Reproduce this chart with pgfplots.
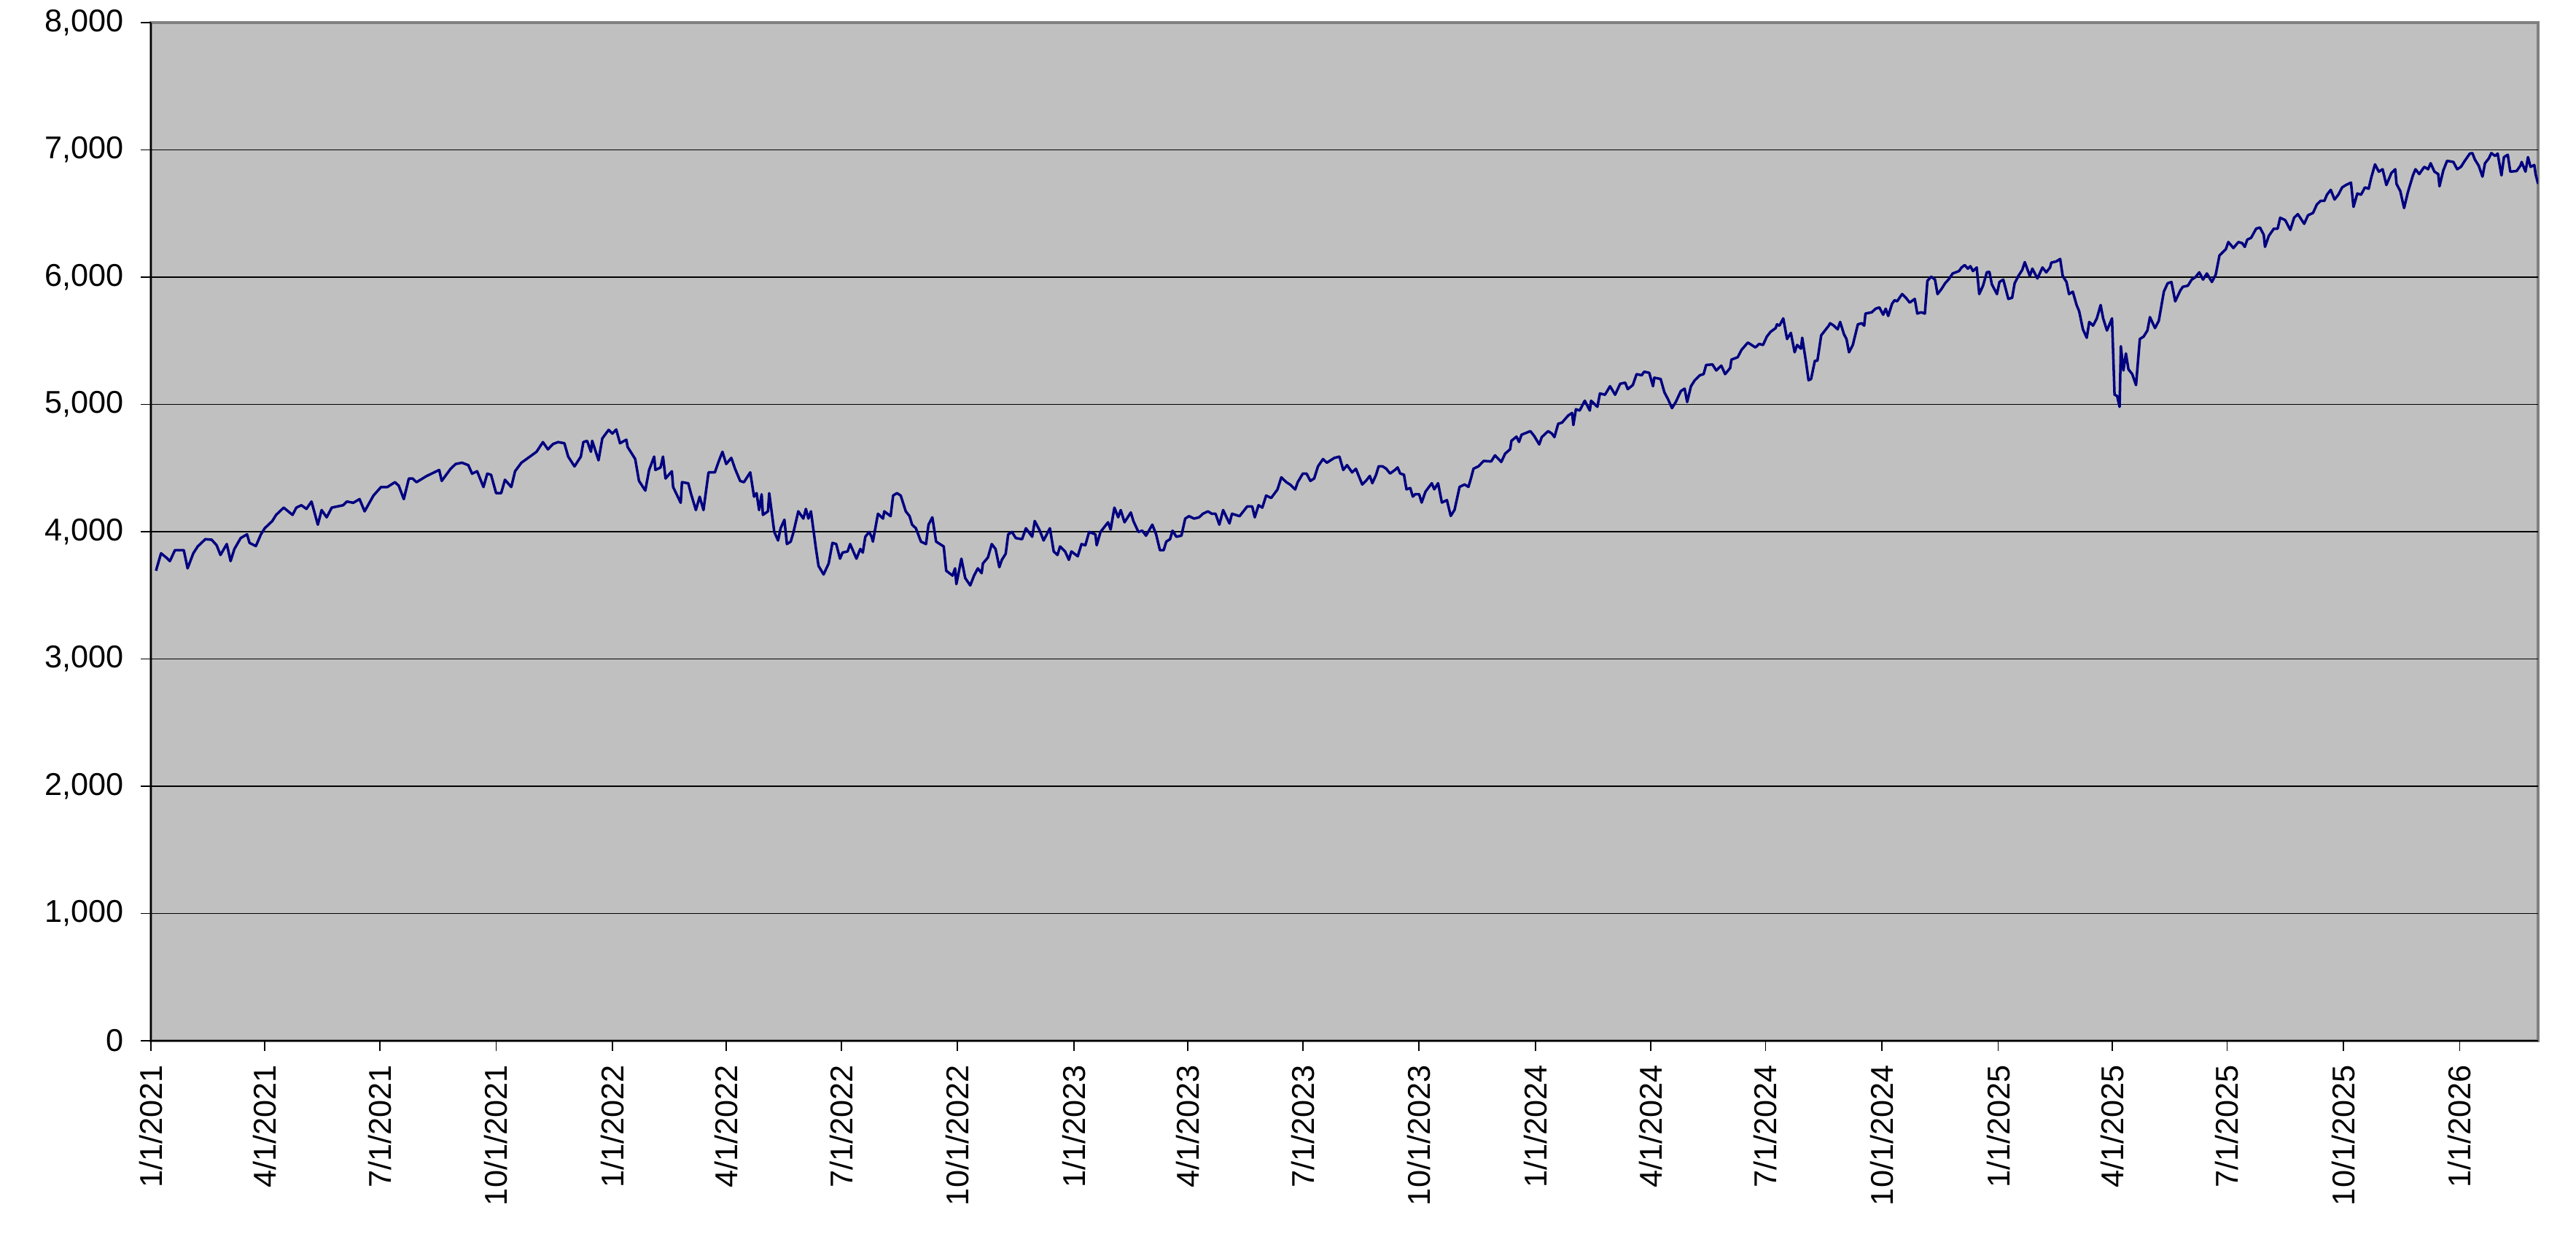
\documentclass[border=0pt]{standalone}
\usepackage{fontspec}
\setmainfont{Liberation Sans}
\usepackage{pgfplots}
\pgfplotsset{compat=1.18}
\definecolor{plotbg}{RGB}{192,192,192}
\definecolor{linecol}{RGB}{0,0,128}
\definecolor{framecol}{RGB}{128,128,128}
\begin{document}
\begin{tikzpicture}
\useasboundingbox (-20.7mm,-29.0mm) rectangle (332.6mm,142.7mm);
\begin{axis}[
  scale only axis,
  width=327.4mm, height=139.6mm,
  xmin=0, xmax=1888, ymin=0, ymax=8000,
  axis background/.style={fill=plotbg, draw=framecol, line width=1pt},
  axis x line*=bottom, axis y line*=left,
  axis line style={black, line width=0.5pt, -},
  tick align=outside, major tick length=1.4mm,
  tick style={black, line width=0.5pt},
  ytick={0,1000,...,8000},
  extra y ticks={1000,2000,...,7000},
  extra y tick labels={},
  extra y tick style={grid=major, major tick length=0pt},
  xtick={0,90,181,273,365,455,546,638,730,820,911,1003,1095,1186,1277,1369,1461,1551,1642,1734,1826},
  xticklabels={1/1/2021,4/1/2021,7/1/2021,10/1/2021,1/1/2022,4/1/2022,7/1/2022,10/1/2022,1/1/2023,4/1/2023,7/1/2023,10/1/2023,1/1/2024,4/1/2024,7/1/2024,10/1/2024,1/1/2025,4/1/2025,7/1/2025,10/1/2025,1/1/2026},
  major grid style={black, line width=0.35pt},
  /pgf/number format/assume math mode=true,
  /pgf/number format/1000 sep={,},
  scaled y ticks=false,
  every tick label/.append style={font=\fontsize{12.3}{14}\selectfont},
  xticklabel style={rotate=90, anchor=east, inner sep=0pt, xshift=-1.9mm},
  yticklabel style={anchor=east, inner sep=0pt, xshift=-2.3mm},
]
\addplot[color=linecol, line width=1pt, line join=round, mark=none] table {
x y
4 3693
8 3830
12 3798
15 3769
19 3855
26 3855
29 3712
33.5 3830
37 3884
43 3941
48 3937
52 3893
55 3817
60 3903
63 3769
66 3864
71 3950
76 3979
78 3912
83 3887
87 3979
90 4027
96 4084
99 4132
105 4189
112 4132
115 4189
119 4208
123 4179
127 4237
132 4055
135 4170
139 4113
143 4189
152 4208
155 4237
160 4227
165 4256
169 4160
176 4284
182 4351
187 4351
190 4370
193 4389
196 4361
200 4256
204 4418
207 4418
210 4389
218 4437
224 4466
228 4485
230 4399
237 4494
241 4532
246 4542
251 4523
254 4456
258 4475
263 4351
266 4456
269 4447
273 4303
277 4303
280 4408
285 4351
288 4475
293 4542
301 4599
305 4628
310 4704
314 4647
318 4689
322 4704
327 4695
330 4590
335 4513
340 4590
342 4704
345 4714
348 4628
349 4714
354 4561
357 4733
362 4800
365 4771
368 4803
371 4695
376 4723
377 4666
383 4571
386 4399
391 4323
394 4485
398 4590
399 4485
403 4504
405 4590
407 4418
412 4475
413 4351
419 4227
420 4389
425 4380
427 4303
431 4170
434 4275
437 4170
441 4466
446 4466
449 4551
452 4628
455 4532
459 4580
462 4494
466 4399
469 4389
474 4466
477 4275
479 4303
481 4170
483 4294
484 4132
488 4160
489 4303
493 3998
496 3931
498 4027
501 4094
503 3903
506 3922
508 3989
512 4160
516 4103
518 4179
520 4103
522 4160
526 3864
528 3731
532 3664
536 3750
539 3912
542 3903
545 3788
547 3836
551 3845
553 3903
558 3788
561 3864
563 3836
565 3960
568 3998
570 3960
571 3922
575 4141
579 4103
580 4160
585 4122
587 4284
590 4303
593 4284
597 4160
600 4122
602 4055
605 4027
609 3922
613 3903
615 4055
618 4113
621 3922
624 3903
627 3884
629 3693
634 3655
636 3712
637 3588
641 3788
644 3636
648 3578
651 3655
654 3712
657 3674
658 3750
662 3798
665 3903
668 3864
671 3721
673 3779
676 3826
678 3979
681 3998
684 3950
689 3941
692 4027
697 3960
699 4084
703 4008
706 3931
711 4027
714 3845
717 3817
719 3884
723 3845
726 3779
728 3845
733 3807
736 3903
739 3893
742 3998
747 3979
748 3893
751 3998
754 4036
757 4074
759 4017
762 4189
765 4113
767 4170
770 4074
775 4151
777 4084
781 3998
784 4008
787 3969
792 4055
795 3979
798 3855
801 3855
803 3922
806 3941
808 4008
811 3960
815 3969
818 4103
821 4122
825 4103
829 4113
832 4141
836 4160
839 4141
842 4141
845 4055
848 4170
853 4065
855 4141
861 4122
867 4198
871 4198
873 4113
876 4208
879 4189
882 4284
886 4265
891 4332
894 4427
898 4389
901 4370
905 4332
907 4389
911 4456
914 4456
917 4399
920 4418
923 4513
927 4571
930 4542
936 4580
940 4590
943 4485
946 4523
950 4466
953 4494
958 4371
961 4400
964 4438
966 4381
969 4448
971 4514
974 4514
977 4495
980 4457
984 4486
986 4505
988 4457
991 4448
993 4333
996 4343
998 4276
1000 4295
1003 4295
1005 4229
1008 4314
1013 4381
1015 4333
1018 4381
1021 4229
1025 4248
1028 4124
1031 4171
1035 4352
1039 4371
1042 4352
1044 4419
1046 4495
1050 4514
1054 4556
1060 4552
1063 4600
1068 4548
1071 4613
1075 4648
1076 4714
1080 4747
1082 4705
1084 4762
1091 4790
1094 4752
1098 4686
1100 4743
1105 4790
1108 4771
1110 4743
1113 4848
1116 4857
1121 4914
1124 4933
1125 4838
1127 4962
1130 4952
1134 5029
1138 4952
1139 5029
1144 4981
1146 5086
1150 5076
1154 5143
1158 5076
1162 5162
1166 5171
1168 5120
1172 5152
1175 5238
1179 5229
1181 5257
1185 5248
1188 5143
1189 5210
1194 5200
1197 5095
1200 5038
1203 4971
1206 5019
1210 5105
1213 5124
1215 5019
1218 5143
1221 5190
1225 5229
1228 5238
1230 5310
1235 5314
1238 5267
1242 5305
1245 5238
1249 5286
1250 5352
1255 5371
1258 5429
1263 5486
1269 5448
1272 5476
1275 5467
1278 5533
1281 5571
1285 5600
1286 5629
1288 5619
1291 5676
1294 5514
1297 5562
1300 5410
1302 5467
1305 5438
1306 5524
1309 5333
1311 5190
1313 5200
1316 5343
1318 5343
1321 5543
1324 5581
1327 5619
1328 5638
1331 5619
1334 5590
1336 5648
1339 5552
1341 5514
1343 5410
1346 5467
1350 5629
1353 5638
1355 5619
1356 5714
1361 5724
1364 5752
1367 5762
1370 5705
1372 5752
1374 5695
1377 5790
1379 5819
1381 5810
1385 5867
1388 5838
1391 5800
1395 5829
1397 5714
1400 5724
1403 5714
1405 5971
1408 6004
1411 5981
1413 5867
1416 5905
1419 5952
1422 5985
1425 6029
1430 6048
1432 6076
1434.5 6095
1437 6067
1439 6086
1441 6048
1444 6076
1446 5867
1449 5933
1452 6038
1454 6042
1456 5943
1460 5867
1462 5962
1465 5981
1467 5905
1469 5829
1472 5838
1474 5952
1477 6010
1480 6057
1482 6118
1486 6010
1488 6067
1492 5990
1496 6076
1499 6038
1502 6076
1503 6114
1507 6124
1510 6143
1512 6010
1515 5962
1517 5867
1520 5886
1523 5781
1525 5733
1528 5590
1531 5524
1533 5648
1536 5619
1539 5676
1542 5781
1544 5676
1547 5581
1551 5676
1553 5076
1555 5067
1557 4981
1558 5457
1560 5267
1562 5400
1564 5276
1567 5238
1570 5152
1573 5514
1576 5533
1579 5581
1581 5686
1585 5600
1588 5657
1592 5886
1595 5952
1598 5962
1601 5810
1605 5895
1607 5924
1611 5933
1614 5981
1617 6000
1620 6038
1623 5981
1626 6029
1630 5962
1633 6019
1636 6171
1638 6190
1641 6219
1643 6276
1647 6229
1651 6276
1654 6267
1656 6238
1658 6295
1661 6309
1665 6381
1668 6390
1671 6333
1672 6238
1675 6324
1679 6381
1682 6381
1684 6467
1688 6448
1692 6371
1695 6467
1698 6495
1703 6419
1706 6486
1710 6505
1713 6571
1716 6600
1719 6600
1721 6648
1724 6686
1727 6610
1730 6648
1733 6705
1736 6724
1740 6743
1742 6552
1745 6657
1748 6648
1751 6705
1754 6695
1756 6781
1759 6886
1762 6829
1765 6848
1768 6724
1772 6819
1775 6848
1776 6733
1779 6676
1782 6543
1785 6667
1789 6800
1791 6848
1794 6810
1798 6867
1801 6848
1803 6895
1806 6829
1809 6810
1810 6714
1813 6838
1816 6914
1821 6905
1824 6848
1827 6867
1830 6914
1834 6971
1836 6975
1838 6924
1841 6876
1844 6790
1846 6895
1849 6933
1851 6975
1854 6952
1856 6971
1859 6800
1861 6943
1864 6962
1866 6829
1871 6834
1874 6876
1875 6905
1878 6829
1880 6943
1882 6867
1885 6881
1886 6810
1888 6733
};
\end{axis}
\end{tikzpicture}
\end{document}
